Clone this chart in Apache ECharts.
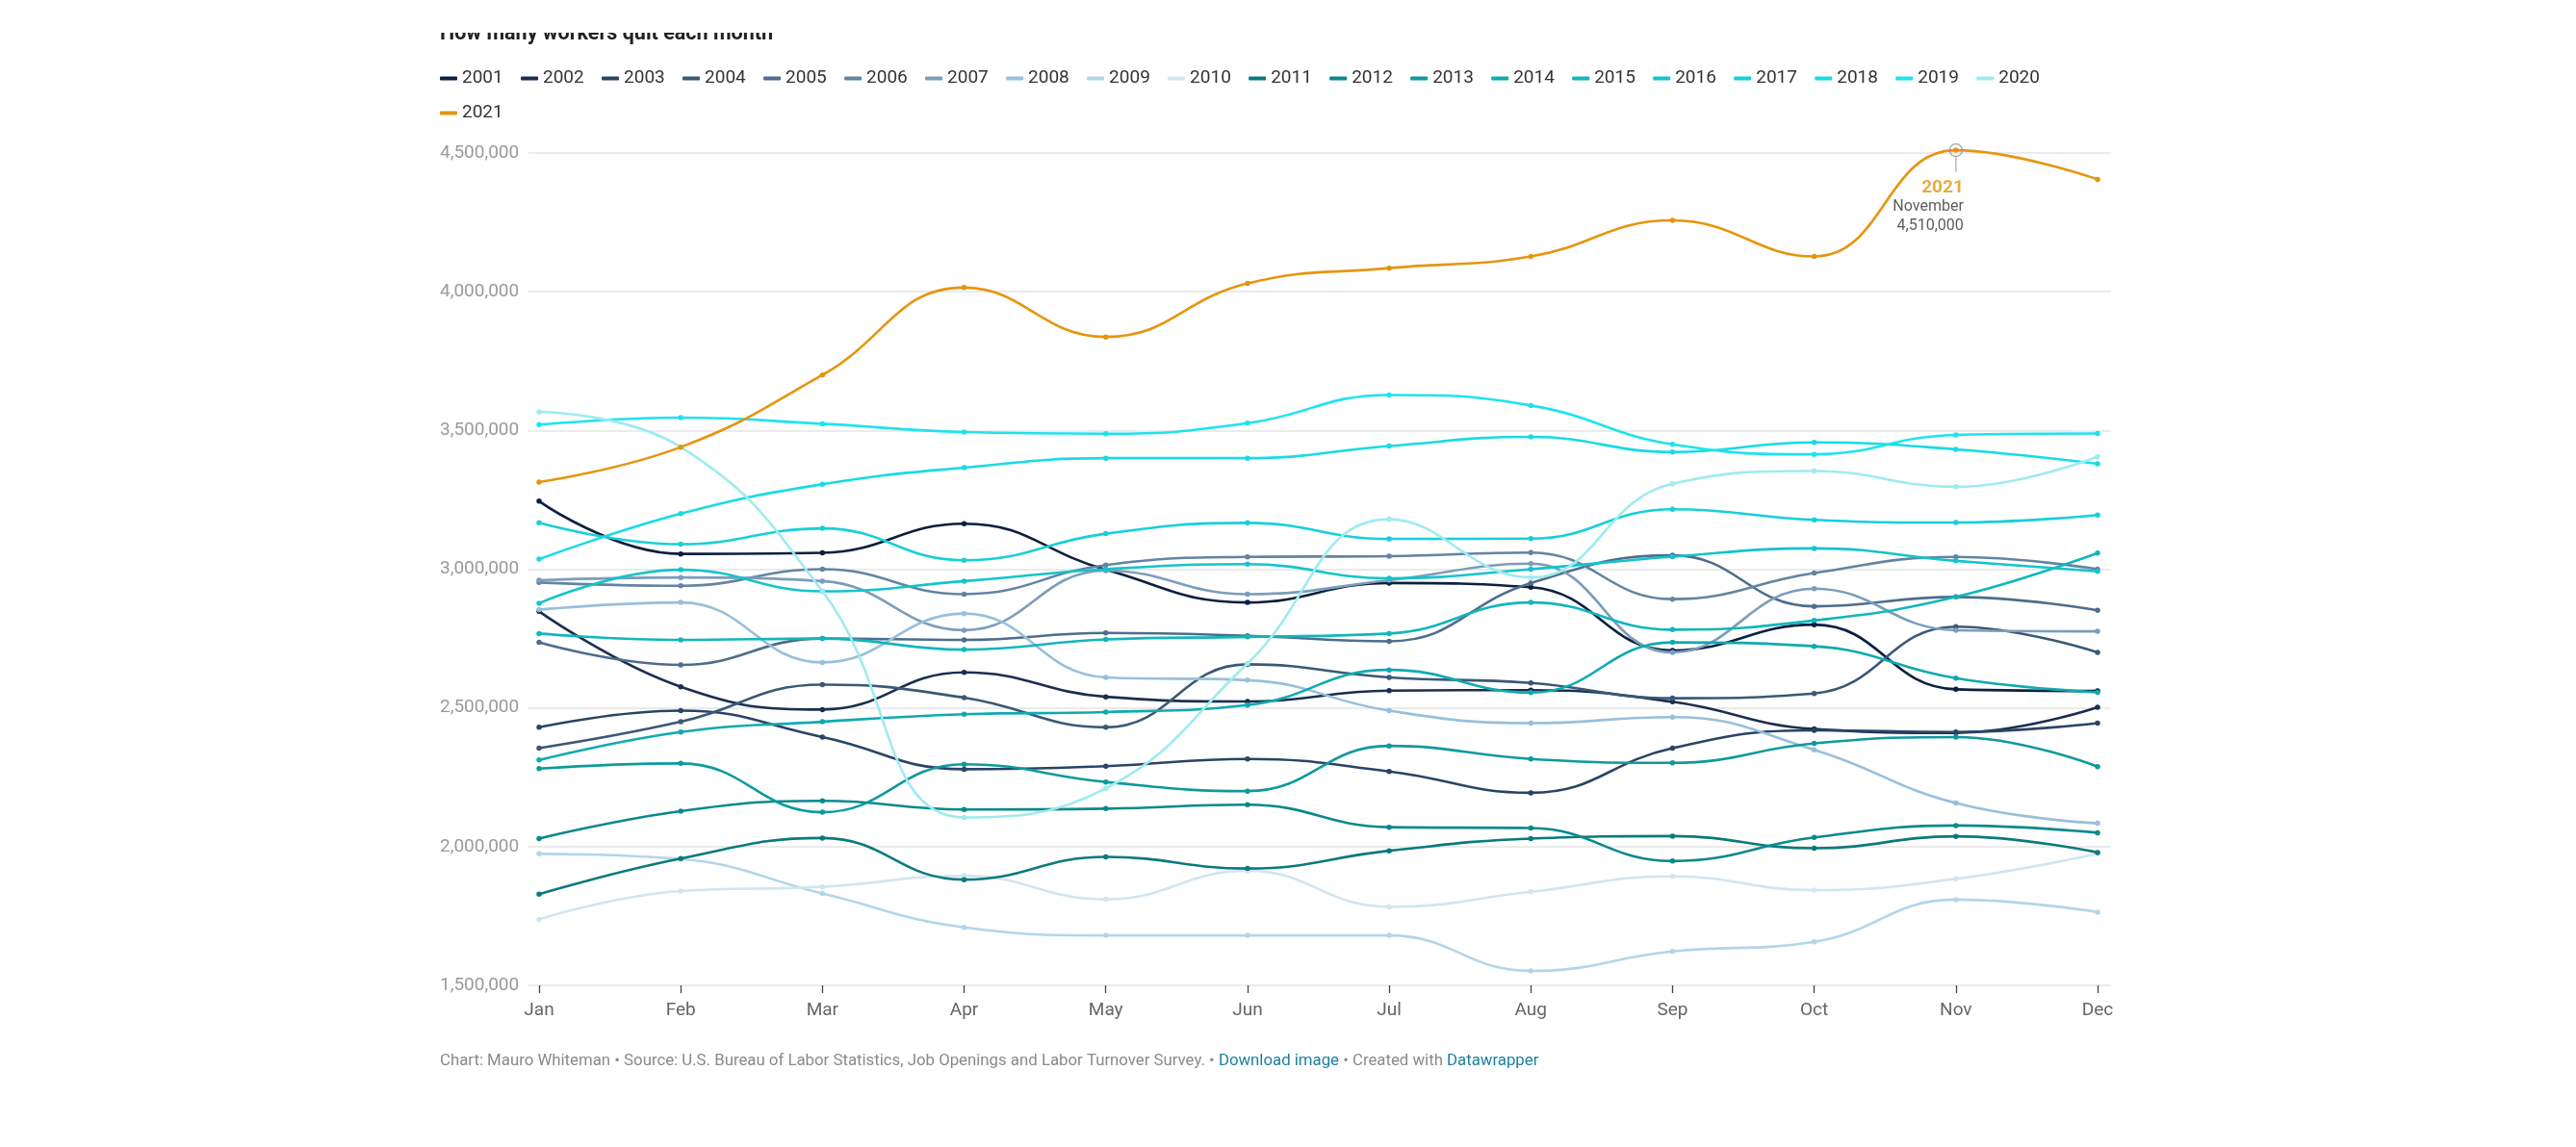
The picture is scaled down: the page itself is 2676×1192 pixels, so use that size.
<!DOCTYPE html>
<html>
<head>
<meta charset="utf-8">
<script src="https://cdn.jsdelivr.net/npm/echarts@6/dist/echarts.min.js"></script>
<style>
html,body{margin:0;padding:0;background:#fff;}
#c{width:2676px;height:1192px;}
</style>
</head>
<body>
<div id="c"></div>
<script>
const months = ['Jan','Feb','Mar','Apr','May','Jun','Jul','Aug','Sep','Oct','Nov','Dec'];
const monthsFull = ['January','February','March','April','May','June','July','August','September','October','November','December'];
const yTicks = [1500000, 2000000, 2500000, 3000000, 3500000, 4000000, 4500000];
const years = ['2001','2002','2003','2004','2005','2006','2007','2008','2009','2010','2011','2012','2013','2014','2015','2016','2017','2018','2019','2020','2021'];

// quits per month, in thousands
const y2001 = [3245, 3055, 3059, 3164, 2998, 2880, 2950, 2935, 2707, 2800, 2567, 2561];
const y2002 = [2848, 2576, 2494, 2628, 2540, 2523, 2562, 2564, 2522, 2424, 2410, 2502];
const y2003 = [2430, 2490, 2395, 2279, 2290, 2316, 2271, 2194, 2355, 2419, 2413, 2445];
const y2004 = [2355, 2450, 2584, 2537, 2430, 2657, 2610, 2590, 2535, 2552, 2793, 2700];
const y2005 = [2736, 2655, 2750, 2745, 2770, 2760, 2740, 2950, 3050, 2866, 2900, 2852];
const y2006 = [2952, 2940, 3000, 2910, 3015, 3044, 3047, 3060, 2892, 2986, 3044, 3000];
const y2007 = [2960, 2970, 2957, 2780, 2995, 2910, 2960, 3020, 2700, 2930, 2780, 2776];
const y2008 = [2854, 2880, 2664, 2840, 2610, 2600, 2490, 2445, 2467, 2349, 2157, 2084];
const y2009 = [1974, 1955, 1831, 1709, 1680, 1680, 1680, 1552, 1622, 1657, 1809, 1764];
const y2010 = [1738, 1840, 1855, 1895, 1810, 1913, 1783, 1837, 1893, 1843, 1884, 1974];
const y2011 = [1829, 1957, 2031, 1881, 1963, 1921, 1985, 2029, 2038, 1994, 2037, 1979];
const y2012 = [2029, 2128, 2165, 2134, 2137, 2151, 2070, 2067, 1948, 2033, 2076, 2050];
const y2013 = [2281, 2300, 2124, 2297, 2233, 2200, 2363, 2316, 2302, 2372, 2395, 2288];
const y2014 = [2312, 2413, 2450, 2477, 2485, 2510, 2637, 2555, 2736, 2722, 2607, 2556];
const y2015 = [2768, 2745, 2750, 2710, 2747, 2756, 2768, 2880, 2782, 2815, 2900, 3058];
const y2016 = [2877, 2998, 2920, 2957, 3000, 3018, 2967, 3000, 3045, 3075, 3030, 2992];
const y2017 = [3167, 3090, 3147, 3032, 3128, 3167, 3109, 3110, 3216, 3178, 3168, 3195];
const y2018 = [3036, 3200, 3306, 3366, 3400, 3400, 3444, 3477, 3422, 3457, 3432, 3380];
const y2019 = [3521, 3546, 3524, 3494, 3488, 3526, 3628, 3590, 3450, 3414, 3484, 3489];
const y2020 = [3567, 3440, 2920, 2105, 2210, 2660, 3180, 2970, 3308, 3354, 3297, 3406];
const y2021 = [3314, 3440, 3700, 4015, 3837, 4030, 4085, 4127, 4257, 4127, 4510, 4405];

const seriesValues = [y2001,y2002,y2003,y2004,y2005,y2006,y2007,y2008,y2009,y2010,y2011,y2012,y2013,y2014,y2015,y2016,y2017,y2018,y2019,y2020,y2021];

const colors = ['#0c1f3f','#1a2f50','#2a4465','#3b5877','#4e6d8c','#6384a2','#7c9dbb','#98bfdb','#b3d5ea','#d2e5f1',
                '#0a7a7d','#0a898d','#0d9a9e','#0faab0','#11b6bd','#13c4cb','#16d0d9','#18dbe4','#1de3ee','#9eebf0','#e6950f'];

const highlightYear = '2021';
const highlightIndex = 10; // November
const fmt = v => Math.round(v).toLocaleString('en-US');
const FONT = 'Roboto, "Noto Sans", sans-serif';

const series = years.map((yr, i) => ({
  name: yr,
  type: 'line',
  xAxisIndex: 1,
  yAxisIndex: 1,
  data: seriesValues[i].map(v => v * 1000),
  smooth: 0.45,
  clip: false,
  symbol: 'circle',
  symbolSize: 5.5,
  showSymbol: true,
  legendIcon: 'roundRect',
  lineStyle: { width: 2.6, color: colors[i] },
  itemStyle: { color: colors[i] },
  emphasis: { disabled: true },
  z: 2 + i
}));

// annotation on the highlighted point
const hiIdx = years.indexOf(highlightYear);
const hiVal = seriesValues[hiIdx][highlightIndex] * 1000;
series.push({
  name: 'annotation-stem', type: 'scatter', xAxisIndex: 1, yAxisIndex: 1, clip: false, silent: true,
  data: [[months[highlightIndex], hiVal]],
  symbol: 'rect', symbolSize: [1.5, 16], symbolOffset: [0, 15],
  itemStyle: { color: '#aaaaaa' }, z: 30
});
series.push({
  name: 'annotation', type: 'scatter', xAxisIndex: 1, yAxisIndex: 1, clip: false, silent: true,
  data: [[months[highlightIndex], hiVal]],
  symbol: 'circle', symbolSize: 13,
  itemStyle: { color: 'rgba(255,255,255,0)', borderColor: '#9a9a9a', borderWidth: 1.5 },
  label: {
    show: true, position: 'bottom', distance: 21, align: 'right', offset: [8, 0],
    formatter: '{y|' + highlightYear + '}\n{m|' + monthsFull[highlightIndex] + '}\n{v|' + fmt(hiVal) + '}',
    rich: {
      y: { fontFamily: FONT, fontSize: 19, fontWeight: 'bold', color: '#e6950f', lineHeight: 21, align: 'right' },
      m: { fontFamily: FONT, fontSize: 16, color: '#333', lineHeight: 20, align: 'right' },
      v: { fontFamily: FONT, fontSize: 16, color: '#333', lineHeight: 20, align: 'right' }
    }
  },
  z: 31
});

const legendBase = {
  icon: 'roundRect', itemWidth: 18, itemHeight: 4, itemGap: 18.3, padding: 0,
  textStyle: { fontFamily: FONT, fontSize: 19, color: '#333' },
  selectedMode: false
};

const chart = echarts.init(document.getElementById('c'), null, { renderer: 'canvas' });
chart.setOption({
  animation: false,
  backgroundColor: '#ffffff',
  textStyle: { fontFamily: FONT },
  legend: [
    Object.assign({}, legendBase, { left: 457, top: 72, data: years.slice(0, 20) }),
    Object.assign({}, legendBase, { left: 457, top: 108, data: years.slice(20) })
  ],
  grid: [
    { left: 549, right: 483, top: 159, bottom: 168 },
    { left: 560, right: 497, top: 159, bottom: 168 }
  ],
  xAxis: [
    { gridIndex: 0, type: 'category', data: months, show: false },
    { gridIndex: 1, type: 'category', data: months, boundaryGap: false,
      axisLine: { show: false },
      axisTick: { show: true, length: 8, lineStyle: { color: '#444', width: 1.3 } },
      axisLabel: { color: '#666', fontSize: 19, margin: 17, fontFamily: FONT },
      splitLine: { show: false } }
  ],
  yAxis: [
    { gridIndex: 0, type: 'value', min: yTicks[0], max: yTicks[yTicks.length - 1], interval: yTicks[1] - yTicks[0],
      axisLine: { show: false }, axisTick: { show: false },
      axisLabel: { align: 'left', margin: 92, color: '#9a9a9a', fontSize: 19, fontFamily: FONT, formatter: v => fmt(v) },
      splitLine: { lineStyle: { color: '#e4e4e4', width: 1.6 } } },
    { gridIndex: 1, type: 'value', min: yTicks[0], max: yTicks[yTicks.length - 1], show: false, splitLine: { show: false } }
  ],
  graphic: [
    { type: 'text', left: 457, top: 25, z: 1,
      style: { text: 'How many workers quit each month', fontFamily: FONT, fontSize: 21.5, fontWeight: 'bold', fill: '#222' } },
    { type: 'rect', left: 0, top: 0, z: 5, shape: { width: 2676, height: 34 }, style: { fill: '#ffffff' } },
    { type: 'text', left: 457, top: 1094,
      style: {
        text: '{a|Chart: Mauro Whiteman • Source: U.S. Bureau of Labor Statistics, Job Openings and Labor Turnover Survey. • }{l|Download image}{a| • Created with }{l|Datawrapper}',
        rich: {
          a: { fontFamily: FONT, fontSize: 16.8, fill: '#8a8a8a', color: '#8a8a8a' },
          l: { fontFamily: FONT, fontSize: 16.8, fill: '#1d81a2', color: '#1d81a2' }
        }
      } }
  ],
  series: series
});
</script>
</body>
</html>
